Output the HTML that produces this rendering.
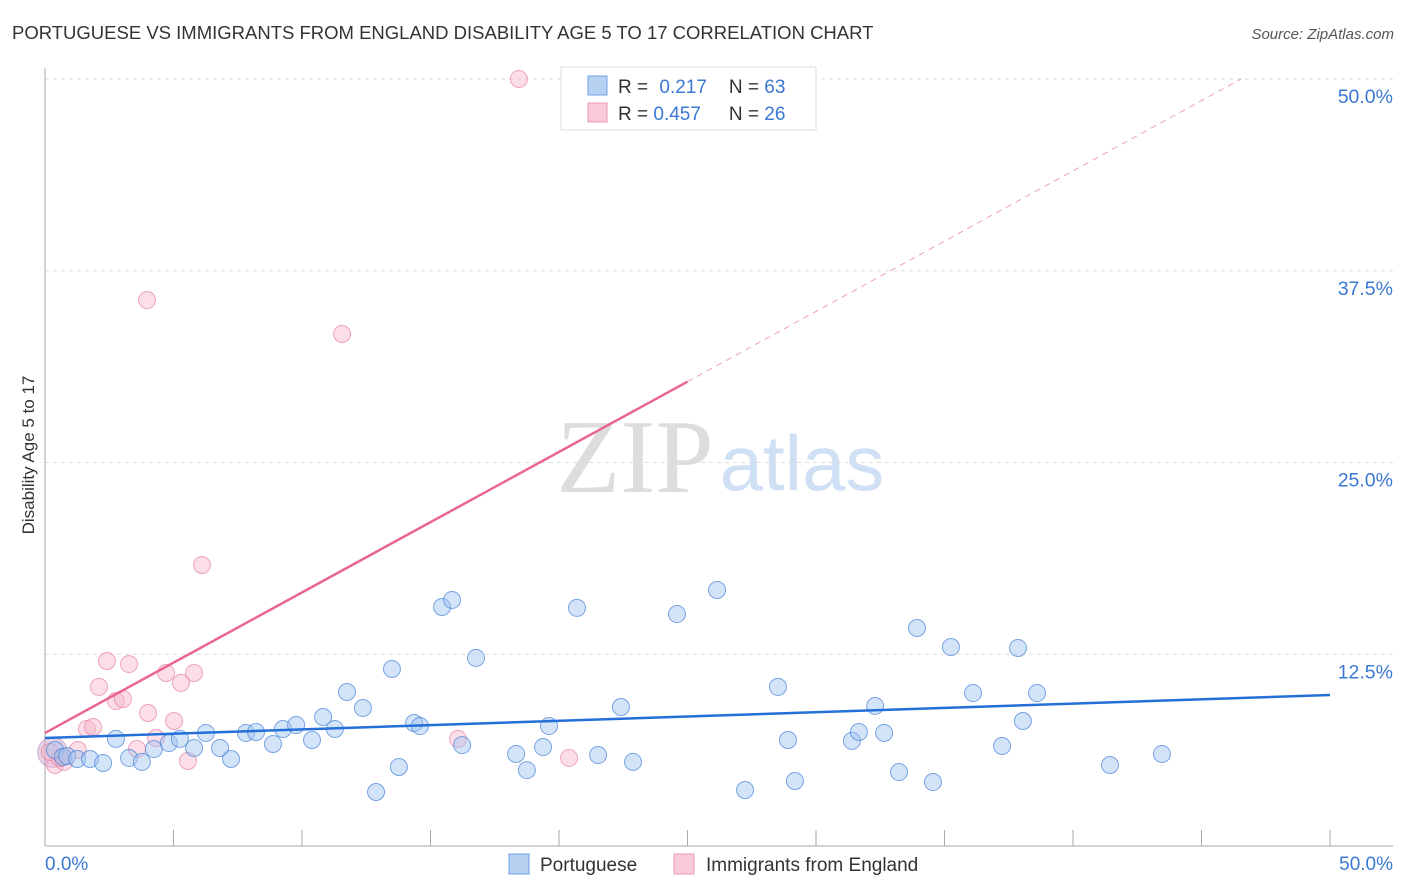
<!DOCTYPE html>
<html><head><meta charset="utf-8"><style>
body{margin:0;background:#fff;font-family:"Liberation Sans",sans-serif;}
svg{display:block}
</style></head><body>
<svg id="c" width="1406" height="892" xmlns="http://www.w3.org/2000/svg">
<text x="12" y="39" font-size="18.5" fill="#333">PORTUGUESE VS IMMIGRANTS FROM ENGLAND DISABILITY AGE 5 TO 17 CORRELATION CHART</text>
<text x="1394" y="39" font-size="15" fill="#555" font-style="italic" text-anchor="end">Source: ZipAtlas.com</text>
<text x="635" y="492" font-size="105" fill="#ddd" font-family="Liberation Serif,serif" text-anchor="middle">ZIP</text>
<text x="802" y="490" font-size="78" fill="#cfe0f5" text-anchor="middle">atlas</text>
<text transform="translate(34,455) rotate(-90)" font-size="17" fill="#333" text-anchor="middle">Disability Age 5 to 17</text>
<g id="grid"></g><g id="marks"></g>
<g>
<rect x="561" y="67" width="255" height="63" fill="#fff" stroke="#ddd"/>
<rect x="588" y="76" width="19" height="19" fill="#b7d1f3" stroke="#6f9fe0"/>
<rect x="588" y="103" width="19" height="19" fill="#f9c9d7" stroke="#ec9ab3"/>
<text x="618" y="93" font-size="19" fill="#333">R = <tspan fill="#3a78d4" dx="6">0.217</tspan><tspan dx="22">N = </tspan><tspan fill="#3a78d4">63</tspan></text>
<text x="618" y="120" font-size="19" fill="#333">R = <tspan fill="#3a78d4">0.457</tspan><tspan dx="28">N = </tspan><tspan fill="#3a78d4">26</tspan></text>
</g>
<g>
<rect x="509" y="854" width="20" height="20" fill="#b7d1f3" stroke="#6f9fe0"/>
<text x="540" y="871" font-size="19" fill="#333">Portuguese</text>
<rect x="674" y="854" width="20" height="20" fill="#f9c9d7" stroke="#ec9ab3"/>
<text x="706" y="871" font-size="19" fill="#333">Immigrants from England</text>
</g>
</svg>
<script>
const xTicks=[0,5,10,15,20,25,30,35,40,45,50];
const yTicks=[12.5,25,37.5,50];
const yTickLabels=["12.5%","25.0%","37.5%","50.0%"];
const xLabels=["0.0%","50.0%"];
const portX=[0.39,0.70,0.86,1.25,1.75,2.26,2.76,3.27,3.77,4.24,4.82,5.25,5.80,6.26,6.81,7.24,7.82,8.21,8.87,9.26,9.77,10.39,10.82,11.28,11.75,12.37,12.88,13.50,13.77,14.36,14.59,15.45,15.84,16.23,16.77,18.33,18.75,19.38,19.61,20.70,21.52,22.41,22.88,24.59,26.15,27.24,28.52,28.91,29.18,31.40,31.67,32.30,32.65,33.23,33.93,34.55,35.25,36.11,37.24,37.86,38.05,38.60,41.44,43.46];
const portY=[6.26,5.80,5.87,5.67,5.67,5.41,6.98,5.74,5.48,6.32,6.71,6.98,6.39,7.37,6.39,5.67,7.37,7.43,6.65,7.63,7.89,6.91,8.41,7.63,10.04,9.00,3.52,11.54,5.15,8.02,7.82,15.58,16.04,6.58,12.26,6.00,4.95,6.45,7.82,15.52,5.93,9.06,5.48,15.12,16.69,3.65,10.37,6.91,4.24,6.85,7.43,9.13,7.37,4.82,14.21,4.17,12.97,9.97,6.52,12.91,8.15,9.97,5.28,6.00];
const engX=[18.44,3.97,11.56,6.11,2.41,3.27,2.10,4.71,5.80,5.29,2.76,3.03,4.01,5.02,1.63,1.87,3.58,4.32,5.56,16.07,20.39,1.28,0.39,0.74,0.58,0.19];
const engY=[50.0,35.59,33.38,18.32,12.06,11.86,10.37,11.28,11.28,10.63,9.45,9.58,8.67,8.15,7.63,7.76,6.32,7.04,5.54,6.98,5.74,6.26,5.28,5.48,5.74,6.13];
const portTrend=[7.04,9.84];
const engTrend=[7.37,0.916];
const NS="http://www.w3.org/2000/svg";
const sx=v=>45+v/50*1285;
const sy=v=>846-v/12.5*191.75;
function mk(p,tag,a){const e=document.createElementNS(NS,tag);for(const k in a)e.setAttribute(k,a[k]);p.appendChild(e);return e;}
const g=document.getElementById('grid'),m=document.getElementById('marks');
yTicks.forEach((t,i)=>{
 const l=mk(g,'line',{x1:45,x2:1393,y1:sy(t),y2:sy(t),stroke:'#ddd','stroke-dasharray':'4,4'});
 
 
 const tx=mk(g,'text',{x:1393,y:sy(t)+24,'font-size':19.5,fill:'#3a78d4','text-anchor':'end'});
 tx.textContent=yTickLabels[i];
 
 
});
const ax=mk(g,'line',{x1:45,x2:45,y1:68,y2:846,stroke:'#aaa'});


const bx=mk(g,'line',{x1:45,x2:1393,y1:846,y2:846,stroke:'#aaa'});


xTicks.forEach(t=>{
 const l=mk(g,'line',{x1:sx(t),x2:sx(t),y1:830,y2:846,stroke:'#aaa'});
 
 
});
[[0,'start',45],[50,'end',1393]].forEach((d,i)=>{
 const tx=mk(g,'text',{x:d[2],y:870,'font-size':19,fill:'#3a78d4','text-anchor':d[1]});
 tx.textContent=xLabels[i];
 
 
});
const big=mk(m,'circle',{cx:sx(0.3),cy:sy(6.1),r:15,fill:'rgba(200,160,200,0.45)',stroke:'rgba(180,130,190,0.6)'});


engX.forEach((x,i)=>{
 const c=mk(m,'circle',{cx:sx(x),cy:sy(engY[i]),r:8.5,fill:'rgba(246,182,202,0.45)',stroke:'rgba(232,130,165,0.7)'});
 
 
});
portX.forEach((x,i)=>{
 const c=mk(m,'circle',{cx:sx(x),cy:sy(portY[i]),r:8.5,fill:'rgba(160,195,240,0.45)',stroke:'rgba(70,130,215,0.7)'});
 
 
});
const pl=mk(m,'line',{x1:sx(0),y1:sy(portTrend[0]),x2:sx(50),y2:sy(portTrend[1]),stroke:'#2470d8','stroke-width':2.5});


const xEnd=25,xTop=(50-engTrend[0])/engTrend[1];
const el=mk(m,'line',{x1:sx(0),y1:sy(engTrend[0]),x2:sx(xEnd),y2:sy(engTrend[0]+engTrend[1]*xEnd),stroke:'#e8668f','stroke-width':2.5});


const ed=mk(m,'line',{x1:sx(xEnd),y1:sy(engTrend[0]+engTrend[1]*xEnd),x2:sx(xTop),y2:sy(50),stroke:'#eea0b8','stroke-width':1,'stroke-dasharray':'6,5'});


</script>
</body></html>
